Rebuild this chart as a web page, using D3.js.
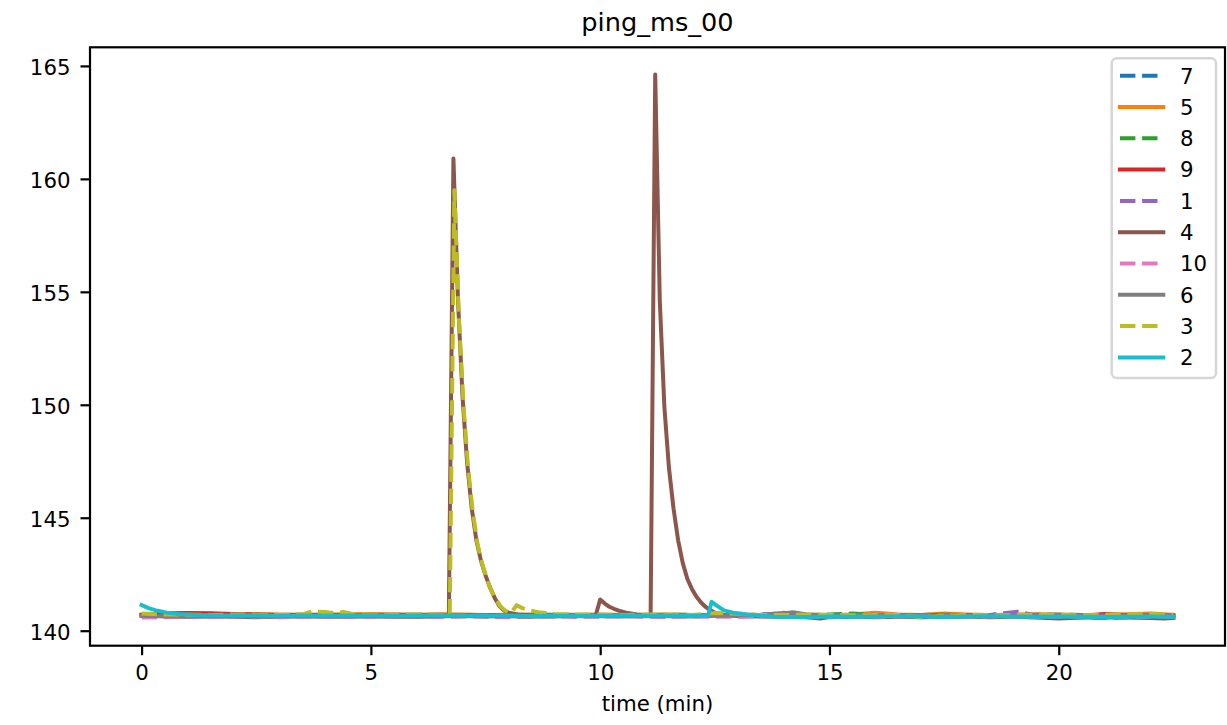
<!DOCTYPE html>
<html>
<head>
<meta charset="utf-8">
<script src="https://cdn.jsdelivr.net/npm/d3@7"></script>
<style>
  html, body { margin: 0; padding: 0; background: #ffffff; }
  svg { display: block; font-family: "DejaVu Sans", sans-serif; }
</style>
</head>
<body>
<div id="chart"></div>
<script>
// ---------------- data ----------------
const titleText = "ping_ms_00";
const xLabelText = "time (min)";
const seriesNames = ["7", "5", "8", "9", "1", "4", "10", "6", "3", "2"];
const seriesColors = ["#1f77b4", "#ff7f0e", "#2ca02c", "#d62728", "#9467bd", "#8c564b", "#e377c2", "#7f7f7f", "#bcbd22", "#17becf"];
const seriesDashed = [true, false, true, false, true, false, true, false, true, false];
const xTicks = [0, 5, 10, 15, 20];
const yTicks = [140, 145, 150, 155, 160, 165];

// each series: [time (min), ping (ms)]
const s7 = [[0,140.70],[0.5,140.68],[1,140.66],[1.5,140.68],[2,140.69],[2.5,140.67],[3,140.66],[3.5,140.68],[4,140.70],[4.5,140.68],[5,140.67],[5.5,140.66],[6,140.68],[6.5,140.70],[7,140.69],[7.5,140.67],[8,140.66],[8.5,140.68],[9,140.67],[9.5,140.69],[10,140.70],[10.5,140.68],[11,140.66],[11.5,140.67],[12,140.69],[12.5,140.68],[13,140.66],[13.5,140.65],[14,140.67],[14.5,140.68],[15,140.66],[15.5,140.64],[16,140.66],[16.5,140.68],[17,140.67],[17.5,140.65],[18,140.66],[18.5,140.68],[19,140.66],[19.5,140.63],[20,140.62],[20.5,140.60],[21,140.56],[21.5,140.60],[22,140.63],[22.5,140.62]];
const s5 = [[0,140.72],[0.5,140.74],[1,140.73],[1.5,140.71],[2,140.72],[2.5,140.74],[3,140.72],[3.5,140.70],[4,140.72],[4.5,140.73],[5,140.74],[5.5,140.72],[6,140.71],[6.5,140.73],[7,140.72],[7.5,140.70],[8,140.71],[8.5,140.72],[9,140.70],[9.5,140.71],[10,140.72],[10.5,140.70],[11,140.71],[11.5,140.72],[12,140.70],[12.5,140.69],[13,140.71],[13.5,140.70],[14,140.80],[14.5,140.72],[15,140.70],[15.5,140.72],[16,140.79],[16.5,140.72],[17,140.70],[17.5,140.76],[18,140.72],[18.5,140.70],[19,140.71],[19.5,140.73],[20,140.72],[20.5,140.70],[21,140.71],[21.5,140.73],[22,140.76],[22.5,140.70]];
const s8 = [[0,140.68],[0.5,140.70],[1,140.69],[1.5,140.71],[2,140.70],[2.5,140.68],[3,140.69],[3.5,140.71],[4,140.70],[4.5,140.69],[5,140.68],[5.5,140.70],[6,140.71],[6.5,140.69],[7,140.68],[7.5,140.70],[8,140.69],[8.5,140.70],[9,140.71],[9.5,140.69],[10,140.68],[10.5,140.70],[11,140.69],[11.5,140.71],[12,140.70],[12.5,140.68],[13,140.69],[13.5,140.70],[14,140.71],[14.5,140.69],[15,140.72],[15.5,140.76],[16,140.70],[16.5,140.68],[17,140.70],[17.5,140.71],[18,140.69],[18.5,140.70],[19,140.68],[19.5,140.70],[20,140.71],[20.5,140.69],[21,140.68],[21.5,140.70],[22,140.69],[22.5,140.70]];
const s9 = [[0,140.70],[0.5,140.77],[1,140.78],[1.5,140.77],[2,140.74],[2.5,140.72],[3,140.70],[3.5,140.71],[4,140.70],[4.5,140.69],[5,140.70],[5.5,140.71],[6,140.70],[6.5,140.69],[7,140.70],[7.5,140.68],[8,140.69],[8.5,140.70],[9,140.68],[9.5,140.69],[10,140.70],[10.5,140.68],[11,140.69],[11.5,140.70],[12,140.68],[12.5,140.67],[13,140.68],[13.5,140.69],[14,140.67],[14.5,140.68],[15,140.66],[15.5,140.67],[16,140.68],[16.5,140.66],[17,140.67],[17.5,140.69],[18,140.70],[18.5,140.68],[19,140.68],[19.5,140.66],[20,140.67],[20.5,140.65],[21,140.74],[21.5,140.68],[22,140.66],[22.5,140.67]];
const s1 = [[0,140.68],[0.5,140.66],[1,140.67],[1.5,140.69],[2,140.68],[2.5,140.70],[3,140.69],[3.5,140.67],[4,140.68],[4.5,140.70],[5,140.69],[5.5,140.68],[6,140.70],[6.5,140.71],[7,140.69],[7.5,140.68],[8,140.70],[8.5,140.69],[9,140.68],[9.5,140.70],[10,140.69],[10.5,140.68],[11,140.70],[11.5,140.69],[12,140.68],[12.5,140.70],[13,140.69],[13.5,140.71],[14,140.78],[14.5,140.70],[15,140.68],[15.5,140.69],[16,140.70],[16.5,140.68],[17,140.69],[17.5,140.70],[18,140.68],[18.5,140.70],[18.9,140.80],[19.1,140.84],[19.4,140.72],[20,140.69],[20.5,140.68],[21,140.67],[21.5,140.68],[22,140.70],[22.5,140.69]];
const s4 = [[0,140.66],[0.5,140.64],[1,140.62],[1.5,140.64],[2,140.62],[2.5,140.60],[3,140.63],[3.5,140.64],[4,140.62],[4.5,140.63],[5,140.64],[5.5,140.62],[6,140.63],[6.5,140.64],[6.7,140.66],[6.8,160.9],[6.9,154.6],[7.0,150.3],[7.1,147.4],[7.2,145.4],[7.3,144.0],[7.4,143.1],[7.5,142.45],[7.6,141.9],[7.7,141.45],[7.8,141.1],[7.9,140.9],[8.0,140.8],[8.2,140.72],[8.5,140.68],[9,140.66],[9.5,140.65],[9.9,140.66],[10.0,141.38],[10.1,141.2],[10.2,141.06],[10.3,140.97],[10.45,140.86],[10.6,140.78],[10.8,140.72],[11.1,140.66],[11.2,164.62],[11.3,154.6],[11.4,149.9],[11.5,147.2],[11.6,145.4],[11.7,144.0],[11.8,143.0],[11.9,142.3],[12.0,141.85],[12.1,141.5],[12.2,141.25],[12.3,141.05],[12.4,140.9],[12.5,140.8],[12.7,140.7],[13,140.65],[13.5,140.63],[14,140.62],[14.5,140.6],[14.8,140.54],[15,140.6],[15.5,140.62],[16,140.6],[16.5,140.62],[17,140.6],[17.5,140.61],[18,140.63],[18.5,140.6],[19,140.62],[19.5,140.58],[20,140.54],[20.5,140.58],[21,140.6],[21.5,140.58],[22,140.56],[22.3,140.54],[22.5,140.57]];
const s10 = [[0,140.58],[0.5,140.60],[1,140.62],[1.5,140.61],[2,140.63],[2.5,140.62],[3,140.60],[3.5,140.62],[4,140.63],[4.5,140.61],[5,140.62],[5.5,140.64],[6,140.62],[6.5,140.61],[7,140.63],[7.5,140.62],[8,140.60],[8.5,140.62],[9,140.63],[9.5,140.61],[10,140.62],[10.5,140.64],[11,140.62],[11.5,140.61],[12,140.63],[12.5,140.62],[13,140.61],[13.5,140.63],[14,140.62],[14.5,140.60],[15,140.62],[15.5,140.63],[16,140.61],[16.5,140.62],[17,140.64],[17.5,140.62],[18,140.61],[18.5,140.63],[19,140.62],[19.5,140.60],[20,140.61],[20.5,140.63],[21,140.58],[21.5,140.60],[22,140.62],[22.5,140.61]];
const s6 = [[0,140.66],[0.5,140.64],[1,140.63],[1.5,140.65],[2,140.64],[2.5,140.62],[3,140.63],[3.5,140.65],[4,140.64],[4.5,140.63],[5,140.65],[5.5,140.64],[6,140.62],[6.5,140.64],[7,140.65],[7.5,140.63],[8,140.64],[8.5,140.62],[9,140.63],[9.5,140.65],[10,140.64],[10.5,140.63],[11,140.65],[11.5,140.64],[12,140.63],[12.5,140.66],[13,140.68],[13.5,140.70],[14,140.76],[14.2,140.82],[14.5,140.72],[15,140.66],[15.5,140.64],[16,140.63],[16.5,140.65],[17,140.64],[17.5,140.62],[18,140.64],[18.5,140.65],[19,140.63],[19.5,140.64],[20,140.62],[20.5,140.64],[21,140.63],[21.5,140.65],[22,140.64],[22.5,140.63]];
const s3 = [[0,140.76],[0.5,140.72],[1,140.71],[1.5,140.70],[2,140.72],[2.5,140.71],[3,140.70],[3.5,140.72],[3.7,140.84],[4.0,140.83],[4.2,140.78],[4.4,140.83],[4.6,140.74],[5,140.71],[5.5,140.70],[6,140.72],[6.5,140.71],[6.72,140.7],[6.82,159.5],[6.92,153.8],[7.02,150.0],[7.12,147.2],[7.22,145.3],[7.32,143.9],[7.42,143.0],[7.52,142.35],[7.62,141.8],[7.72,141.4],[7.82,141.1],[7.92,140.9],[8.05,140.78],[8.18,141.13],[8.3,141.0],[8.45,140.9],[8.65,140.82],[9.0,140.74],[9.5,140.72],[10,140.71],[10.5,140.70],[11,140.72],[11.5,140.71],[12,140.70],[12.5,140.78],[12.9,140.76],[13.5,140.70],[14,140.69],[14.5,140.71],[15,140.70],[15.5,140.68],[16,140.70],[16.5,140.69],[17,140.60],[17.5,140.66],[18,140.70],[18.5,140.68],[19,140.69],[19.5,140.71],[20,140.70],[20.5,140.68],[21,140.70],[21.5,140.72],[22,140.74],[22.5,140.71]];
const s2 = [[0,141.14],[0.15,141.0],[0.35,140.88],[0.55,140.8],[0.8,140.74],[1.2,140.7],[1.5,140.68],[2,140.67],[2.5,140.68],[3,140.66],[3.5,140.67],[4,140.66],[4.5,140.67],[5,140.68],[5.5,140.66],[6,140.67],[6.5,140.68],[7,140.67],[7.5,140.66],[8,140.67],[8.5,140.65],[9,140.66],[9.5,140.65],[10,140.66],[10.5,140.67],[11,140.66],[11.5,140.67],[12,140.66],[12.35,140.65],[12.43,141.28],[12.55,141.1],[12.7,140.9],[12.9,140.8],[13.2,140.72],[13.5,140.66],[13.8,140.62],[14.5,140.61],[15,140.63],[15.5,140.62],[16,140.63],[16.5,140.64],[17,140.63],[17.5,140.62],[18,140.63],[18.5,140.64],[19,140.63],[19.5,140.62],[20,140.63],[20.5,140.62],[21,140.61],[21.5,140.62],[22,140.63],[22.5,140.62]];

const seriesData = [s7, s5, s8, s9, s1, s4, s10, s6, s3, s2];

// ---------------- layout ----------------
const W = 1227, H = 725;
const plot = { left: 90, right: 1225, top: 47.3, bottom: 645.7 };

const svg = d3.select("#chart").append("svg")
  .attr("width", W).attr("height", H);

const allT = seriesData.flat().map(d => d[0]);
const allV = seriesData.flat().map(d => d[1]);
const tMin = d3.min(allT), tMax = d3.max(allT);
const vMin = d3.min(allV), vMax = d3.max(allV);
const tPad = (tMax - tMin) * 0.05, vPad = (vMax - vMin) * 0.05;

const x = d3.scaleLinear().domain([tMin - tPad, tMax + tPad]).range([plot.left, plot.right]);
const y = d3.scaleLinear().domain([vMin - vPad, vMax + vPad]).range([plot.bottom, plot.top]);

const lineW = 4;
const dashArr = "15.4,6.7";

// lines
const line = d3.line().x(d => x(d[0])).y(d => y(d[1]));
const gLines = svg.append("g");
seriesData.forEach((data, i) => {
  gLines.append("path")
    .datum(data)
    .attr("d", line)
    .attr("fill", "none")
    .attr("stroke", seriesColors[i])
    .attr("stroke-width", lineW)
    .attr("stroke-linejoin", "round")
    .attr("stroke-linecap", seriesDashed[i] ? "butt" : "square")
    .attr("stroke-dasharray", seriesDashed[i] ? dashArr : null);
});

// frame
svg.append("rect")
  .attr("x", plot.left).attr("y", plot.top)
  .attr("width", plot.right - plot.left).attr("height", plot.bottom - plot.top)
  .attr("fill", "none").attr("stroke", "#000").attr("stroke-width", 2.2);

// axes
const fontPx = 21.3;
const xAxis = d3.axisBottom(x).tickValues(xTicks).tickFormat(d3.format("d"))
  .tickSizeInner(9.5).tickSizeOuter(0).tickPadding(10);
const gx = svg.append("g").attr("transform", `translate(0,${plot.bottom})`).call(xAxis);
gx.select(".domain").remove();
gx.selectAll(".tick line").attr("stroke", "#000").attr("stroke-width", 2.2);
gx.selectAll(".tick text").attr("font-size", fontPx).attr("fill", "#000")
  .attr("font-family", "DejaVu Sans").attr("dy", "0.71em");

const yAxis = d3.axisLeft(y).tickValues(yTicks).tickFormat(d3.format("d"))
  .tickSizeInner(9.5).tickSizeOuter(0).tickPadding(10);
const gy = svg.append("g").attr("transform", `translate(${plot.left},0)`).call(yAxis);
gy.select(".domain").remove();
gy.selectAll(".tick line").attr("stroke", "#000").attr("stroke-width", 2.2);
gy.selectAll(".tick text").attr("font-size", fontPx).attr("fill", "#000")
  .attr("font-family", "DejaVu Sans").attr("dy", "0.4em");

// title & label
svg.append("text")
  .attr("x", (plot.left + plot.right) / 2).attr("y", 31)
  .attr("text-anchor", "middle").attr("font-size", 25.6).attr("fill", "#000")
  .text(titleText);
svg.append("text")
  .attr("x", (plot.left + plot.right) / 2).attr("y", 711)
  .attr("text-anchor", "middle").attr("font-size", fontPx).attr("fill", "#000")
  .text(xLabelText);

// legend
const leg = { x: 1111.7, y: 58.3, w: 104.3, h: 319.7, row0: 75.7, rowStep: 31.3 };
const gLeg = svg.append("g");
gLeg.append("rect")
  .attr("x", leg.x).attr("y", leg.y).attr("width", leg.w).attr("height", leg.h)
  .attr("rx", 5).attr("ry", 5)
  .attr("fill", "#fff").attr("fill-opacity", 0.8)
  .attr("stroke", "#cccccc").attr("stroke-opacity", 0.8).attr("stroke-width", 2.5);
seriesNames.forEach((name, i) => {
  const cy = leg.row0 + i * leg.rowStep;
  gLeg.append("line")
    .attr("x1", 1120).attr("x2", 1163.3).attr("y1", cy).attr("y2", cy)
    .attr("stroke", seriesColors[i]).attr("stroke-width", lineW)
    .attr("stroke-linecap", seriesDashed[i] ? "butt" : "square")
    .attr("stroke-dasharray", seriesDashed[i] ? dashArr : null);
  gLeg.append("text")
    .attr("x", 1180).attr("y", cy + 7.8)
    .attr("font-size", fontPx).attr("fill", "#000")
    .text(name);
});
</script>
</body>
</html>
